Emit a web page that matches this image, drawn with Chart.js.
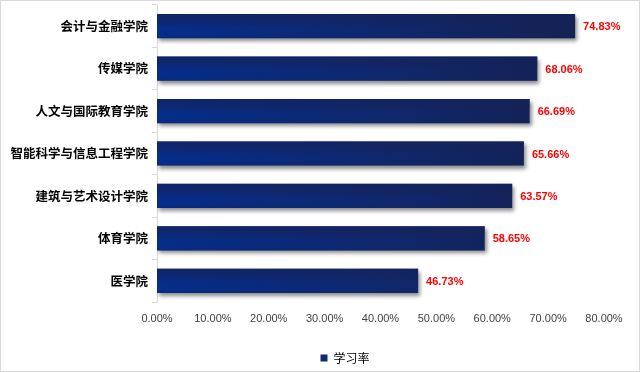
<!DOCTYPE html>
<html><head><meta charset="utf-8">
<script src="https://cdn.jsdelivr.net/npm/chart.js@4/dist/chart.umd.min.js"></script>
<style>html,body{margin:0;padding:0;background:#fff}#wrap{width:640px;height:372px;position:relative}</style>
</head><body><div id="wrap"><canvas id="c" width="640" height="372"></canvas></div>
<script>
const categories = ['会计与金融学院','传媒学院','人文与国际教育学院','智能科学与信息工程学院','建筑与艺术设计学院','体育学院','医学院'];
const seriesName = '学习率';
const values = [74.83, 68.06, 66.69, 65.66, 63.57, 58.65, 46.73];
const xTicks = [0,10,20,30,40,50,60,70,80];

const barFx = {
  id: 'barFx',
  afterLayout(chart) {
    const lg = chart.legend;
    if (lg) { lg.left += 43; lg.right += 43; lg.top += 8; lg.bottom += 8; }
  },
  beforeDatasetsDraw(chart) {
    const ctx = chart.ctx;
    ctx.save();
    ctx.shadowColor = 'rgba(0,0,0,0.45)';
    ctx.shadowBlur = 4;
    ctx.shadowOffsetX = 2;
    ctx.shadowOffsetY = 3;
  },
  afterDatasetsDraw(chart) {
    const ctx = chart.ctx;
    ctx.restore();
    const meta = chart.getDatasetMeta(0);
    meta.data.forEach((bar, i) => {
      const top = bar.y - bar.height / 2, bottom = bar.y + bar.height / 2;
      const left = bar.base, right = bar.x;
      const g = ctx.createLinearGradient(0, top, 0, bottom);
      g.addColorStop(0, 'rgba(22,34,88,0.75)');
      g.addColorStop(0.4, 'rgba(22,34,88,0.35)');
      g.addColorStop(0.55, 'rgba(22,34,88,0)');
      g.addColorStop(0.9, 'rgba(22,34,88,0)');
      g.addColorStop(1, 'rgba(22,34,88,0.35)');
      ctx.fillStyle = g;
      ctx.fillRect(left, top, right - left, bottom - top);
      ctx.save();
      ctx.fillStyle = '#ff0000';
      ctx.font = 'bold 11px "Liberation Sans", Arial, sans-serif';
      ctx.textAlign = 'left';
      ctx.textBaseline = 'middle';
      ctx.fillText(values[i].toFixed(2) + '%', right + 8, bar.y + 1);
      ctx.restore();
    });
  },
  afterDraw(chart) {
    const ctx = chart.ctx;
    ctx.save();
    ctx.strokeStyle = '#d9d9d9';
    ctx.lineWidth = 1;
    ctx.strokeRect(0.5, 0.5, chart.width - 1, chart.height - 1);
    ctx.restore();
  }
};

new Chart(document.getElementById('c'), {
  type: 'bar',
  data: {
    labels: categories,
    datasets: [{
      label: seriesName,
      data: values,
      backgroundColor(context) {
        const chart = context.chart;
        const a = chart.chartArea;
        if (!a) return '#10286e';
        const g = chart.ctx.createLinearGradient(a.left, 0, a.right, 0);
        g.addColorStop(0, '#052d8a');
        g.addColorStop(0.45, '#0e2870');
        g.addColorStop(0.8, '#13235a');
        g.addColorStop(1, '#132252');
        return g;
      },
      borderWidth: 0,
      barPercentage: 0.57,
      categoryPercentage: 1.0
    }]
  },
  options: {
    indexAxis: 'y',
    responsive: false,
    animation: false,
    layout: { padding: { top: 5, right: 36, bottom: 6, left: 0 } },
    scales: {
      x: {
        min: 0, max: 80,
        afterBuildTicks(scale) { scale.ticks = xTicks.map(v => ({ value: v })); },
        grid: { display: false, drawTicks: false },
        border: { display: false },
        ticks: {
          padding: 10,
          color: '#404040',
          font: { family: '"Liberation Sans", Arial, sans-serif', size: 11 },
          callback: v => Number(v).toFixed(2) + '%'
        },
        afterFit(scale) { scale.height = 30; scale.paddingLeft = 0; scale.paddingRight = 0; }
      },
      y: {
        offset: true,
        grid: { offset: true, drawOnChartArea: false, drawTicks: true, tickLength: 5, color: '#d9d9d9' },
        border: { display: true, color: '#d9d9d9' },
        ticks: {
          padding: 4,
          color: '#000',
          font: { family: '"Noto Sans CJK SC", sans-serif', size: 12.5, weight: 'bold' }
        },
        afterFit(scale) { scale.width = 157; scale.paddingTop = 0; scale.paddingBottom = 0; }
      }
    },
    plugins: {
      tooltip: { enabled: false },
      legend: {
        position: 'bottom',
        labels: {
          boxWidth: 7, boxHeight: 7, padding: 12,
          color: '#000',
          font: { family: '"Noto Sans CJK SC", sans-serif', size: 12 },
          generateLabels() {
            return [{ text: seriesName, fillStyle: '#10286e', strokeStyle: '#10286e', lineWidth: 0, hidden: false, datasetIndex: 0 }];
          }
        }
      }
    }
  },
  plugins: [barFx]
});
</script></body></html>
